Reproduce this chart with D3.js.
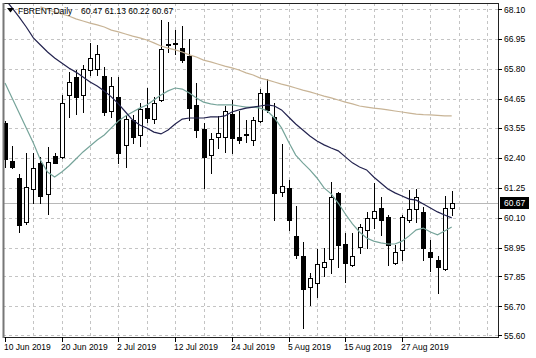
<!DOCTYPE html>
<html>
<head>
<meta charset="utf-8">
<script src="https://cdn.jsdelivr.net/npm/d3@7"></script>
<style>
  body { margin: 0; background: #fff; }
  svg { display: block; font-family: "Liberation Sans", Arial, sans-serif; }
</style>
</head>
<body>
<svg id="chart" width="536" height="358"></svg>
<script>
// Daily FBRENT candles, 10 Jun 2019 .. 4 Sep 2019 (one entry per bar)
const opens = [63.73, 62.27, 61.62, 59.93, 61.20, 62.20, 61.01, 62.46, 62.43, 64.80,
  65.49, 64.80, 65.76, 65.80, 65.53, 64.19, 64.73, 62.89, 63.84, 63.27,
  64.30, 63.88, 64.61, 66.76, 66.80, 66.60, 66.30, 64.42, 63.50, 62.50,
  63.19, 63.19, 64.07, 63.19, 63.29, 63.08, 63.81, 64.88, 63.96, 61.08,
  61.24, 59.40, 58.63, 57.44, 57.59, 58.21, 58.51, 61.05, 59.09, 58.28,
  58.97, 59.63, 60.09, 60.47, 60.12, 58.36, 58.86, 60.01, 60.43, 60.32,
  58.78, 58.48, 58.13, 60.47];
const highs = [63.80, 62.85, 61.77, 62.58, 62.58, 62.43, 62.81, 62.58, 64.80, 65.68,
  65.76, 65.95, 66.80, 66.72, 65.88, 65.49, 65.49, 64.04, 64.04, 64.50,
  65.07, 64.73, 67.68, 67.60, 67.30, 67.45, 66.95, 65.26, 63.73, 63.35,
  64.00, 64.38, 64.61, 64.19, 63.84, 63.96, 65.03, 65.42, 64.50, 62.92,
  61.54, 60.55, 59.17, 57.98, 58.90, 58.94, 61.47, 61.08, 59.51, 59.51,
  59.86, 60.32, 61.43, 60.89, 60.20, 59.05, 60.20, 61.16, 61.20, 60.51,
  59.24, 58.63, 60.93, 61.13];
const lows = [62.04, 62.00, 59.55, 59.86, 60.66, 60.66, 60.24, 62.18, 62.39, 63.96,
  64.07, 64.15, 65.57, 65.57, 64.04, 63.96, 62.20, 62.04, 62.96, 62.85,
  63.77, 63.73, 64.57, 66.45, 66.37, 66.07, 63.84, 63.19, 61.24, 61.81,
  62.77, 62.62, 62.58, 62.96, 63.00, 62.89, 63.77, 64.15, 60.01, 60.93,
  59.63, 58.55, 55.87, 56.75, 57.06, 57.86, 57.98, 58.21, 57.63, 58.25,
  58.74, 58.94, 59.70, 59.44, 58.28, 58.32, 58.48, 59.93, 59.93, 58.48,
  58.05, 57.21, 58.10, 60.22];
const closes = [62.35, 62.04, 59.82, 61.27, 62.00, 60.93, 62.23, 62.20, 64.50, 65.30,
  64.73, 65.80, 66.22, 66.37, 64.15, 65.15, 62.58, 63.88, 63.19, 64.27,
  63.92, 64.50, 66.57, 66.72, 66.76, 66.14, 64.30, 63.46, 62.43, 63.12,
  63.35, 64.19, 63.15, 63.08, 63.25, 63.84, 64.88, 64.23, 61.05, 61.31,
  60.01, 58.67, 57.36, 57.79, 58.32, 58.40, 60.89, 59.05, 58.36, 58.63,
  59.74, 60.09, 60.35, 60.01, 59.05, 58.78, 60.12, 60.43, 60.89, 58.94,
  58.59, 58.21, 60.47, 60.67];

// moving average lines
const maFast = [65.26, 64.69, 64.11, 63.54, 62.96, 62.31, 61.85, 61.66, 61.85, 62.08,
  62.35, 62.62, 62.85, 63.08, 63.27, 63.54, 63.81, 64.00, 64.15, 64.30,
  64.42, 64.61, 64.80, 64.96, 65.07, 65.03, 64.88, 64.69, 64.53, 64.46,
  64.42, 64.42, 64.42, 64.38, 64.34, 64.34, 64.30, 64.19, 63.92, 63.54,
  63.00, 62.50, 62.20, 61.93, 61.62, 61.24, 61.01, 60.66, 60.24, 59.86,
  59.55, 59.32, 59.20, 59.13, 59.09, 59.09, 59.20, 59.40, 59.63, 59.70,
  59.55, 59.44, 59.59, 59.74];
const maMid = [68.48, 68.14, 67.79, 67.41, 66.99, 66.72, 66.45, 66.22, 66.03, 65.84,
  65.68, 65.49, 65.30, 65.15, 64.96, 64.73, 64.46, 64.15, 63.84, 63.65,
  63.54, 63.38, 63.31, 63.46, 63.69, 63.88, 63.92, 63.92, 63.92, 63.96,
  63.96, 64.00, 64.15, 64.23, 64.30, 64.34, 64.38, 64.42, 64.38, 64.23,
  63.96, 63.69, 63.46, 63.23, 63.04, 62.89, 62.77, 62.66, 62.43, 62.20,
  62.04, 61.93, 61.66, 61.43, 61.20, 61.05, 60.93, 60.81, 60.77, 60.62,
  60.47, 60.32, 60.20, 60.09];
const maSlow = [null, null, null, null, null, 68.18, 68.08, 67.98, 67.91, 67.83,
  67.72, 67.64, 67.56, 67.49, 67.41, 67.29, 67.22, 67.14, 67.06, 66.99,
  66.91, 66.80, 66.68, 66.60, 66.53, 66.45, 66.34, 66.26, 66.14, 66.07,
  65.99, 65.91, 65.84, 65.76, 65.65, 65.57, 65.45, 65.38, 65.30, 65.22,
  65.15, 65.07, 64.99, 64.92, 64.84, 64.76, 64.69, 64.61, 64.53, 64.46,
  64.38, 64.34, 64.30, 64.27, 64.23, 64.19, 64.15, 64.11, 64.07, 64.05,
  64.04, 64.02, 64.00, 64.00];

const priceTicks = [68.10, 66.95, 65.80, 64.65, 63.55, 62.40, 61.25, 60.10, 58.95, 57.85, 56.70, 55.60];
const dateLabels = ["10 Jun 2019", "20 Jun 2019", "2 Jul 2019", "12 Jul 2019",
  "24 Jul 2019", "5 Aug 2019", "15 Aug 2019", "27 Aug 2019"];
const dateLabelBars = [0, 8, 16, 24, 32, 40, 48, 56];
const lastPrice = 60.67;

const svg = d3.select("#chart");
const plot = { left: 3, right: 498, top: 3, bottom: 337 };

const x = d3.scaleLinear().domain([0, 63]).range([5, 451.7]);
const y = d3.scaleLinear().domain([55.60, 68.10]).range([335, 9]);
const snap = v => Math.round(v) + 0.5;

svg.append("defs").append("clipPath").attr("id", "plotClip")
  .append("rect")
  .attr("x", plot.left + 1).attr("y", plot.top + 1)
  .attr("width", plot.right - plot.left - 1).attr("height", plot.bottom - plot.top - 1);

// grid
const grid = svg.append("g").attr("stroke", "#c4c4c4").attr("stroke-dasharray", "3,3");
grid.selectAll(".hg").data(priceTicks).enter().append("line")
  .attr("x1", plot.left).attr("x2", plot.right)
  .attr("y1", d => snap(y(d))).attr("y2", d => snap(y(d)));
grid.selectAll(".vg").data(d3.range(4, 69, 4)).enter().append("line")
  .attr("y1", plot.top).attr("y2", plot.bottom)
  .attr("x1", d => snap(x(d))).attr("x2", d => snap(x(d)));

const inner = svg.append("g").attr("clip-path", "url(#plotClip)");

// current price line
inner.append("line")
  .attr("x1", plot.left).attr("x2", plot.right)
  .attr("y1", snap(y(lastPrice))).attr("y2", snap(y(lastPrice)))
  .attr("stroke", "#b8b8b8");

// candles
const bars = d3.range(opens.length);
const candles = inner.append("g").selectAll("g").data(bars).enter().append("g");

candles.append("line")
  .attr("x1", i => snap(x(i))).attr("x2", i => snap(x(i)))
  .attr("y1", i => Math.round(y(highs[i]))).attr("y2", i => Math.round(y(lows[i])) + 1)
  .attr("stroke", "#000");

candles.append("rect")
  .attr("x", i => snap(x(i)) - 2)
  .attr("width", 4)
  .attr("y", i => Math.round(y(Math.max(opens[i], closes[i]))) + 0.5)
  .attr("height", i => Math.max(0, Math.round(y(Math.min(opens[i], closes[i]))) - Math.round(y(Math.max(opens[i], closes[i])))))
  .attr("fill", i => closes[i] >= opens[i] ? "#fff" : "#000")
  .attr("stroke", "#000");

// moving averages
const line = d3.line()
  .defined(d => d != null)
  .x((d, i) => x(i))
  .y(d => y(d));

inner.append("path").datum(maSlow).attr("d", line)
  .attr("fill", "none").attr("stroke", "#c8b496").attr("stroke-width", 1.2);
inner.append("path").datum(maFast).attr("d", line)
  .attr("fill", "none").attr("stroke", "#76a49a").attr("stroke-width", 1.2);
inner.append("path").datum(maMid).attr("d", line)
  .attr("fill", "none").attr("stroke", "#23234f").attr("stroke-width", 1.2);

// frame
svg.append("rect")
  .attr("x", plot.left + 0.5).attr("y", plot.top + 0.5)
  .attr("width", plot.right - plot.left).attr("height", plot.bottom - plot.top)
  .attr("fill", "none").attr("stroke", "#222");
svg.append("line")
  .attr("x1", plot.left + 0.5).attr("x2", plot.left + 0.5)
  .attr("y1", plot.top).attr("y2", plot.bottom + 1)
  .attr("stroke", "#777").attr("stroke-width", 2);

// price axis
const pa = svg.append("g").attr("font-size", "8.5px").attr("fill", "#000");
pa.selectAll("line").data(priceTicks).enter().append("line")
  .attr("x1", plot.right).attr("x2", plot.right + 4)
  .attr("y1", d => snap(y(d))).attr("y2", d => snap(y(d)))
  .attr("stroke", "#000");
pa.selectAll("text").data(priceTicks).enter().append("text")
  .attr("x", 504).attr("y", d => y(d) + 3.5)
  .text(d => d.toFixed(2));

// last price box
svg.append("rect")
  .attr("x", 500).attr("y", Math.round(y(lastPrice)) - 6)
  .attr("width", 29).attr("height", 12)
  .attr("fill", "#000");
svg.append("text")
  .attr("x", 504).attr("y", y(lastPrice) + 3.5)
  .attr("font-size", "8.5px").attr("fill", "#fff")
  .text(lastPrice.toFixed(2));

// date axis
const da = svg.append("g").attr("font-size", "8.5px").attr("fill", "#000");
da.selectAll("line").data(dateLabelBars).enter().append("line")
  .attr("x1", i => snap(x(i))).attr("x2", i => snap(x(i)))
  .attr("y1", plot.bottom).attr("y2", plot.bottom + 5)
  .attr("stroke", "#000");
da.selectAll("text").data(dateLabelBars).enter().append("text")
  .attr("x", i => Math.round(x(i)) - 1).attr("y", 350)
  .text((d, k) => dateLabels[k]);

// header
svg.append("path").attr("d", "M7,8 L14,8 L10.5,12.5 Z").attr("fill", "#000");
svg.append("text").attr("x", 18).attr("y", 14).attr("font-size", "8.5px")
  .text("FBRENT,Daily");
svg.append("text").attr("x", 81).attr("y", 14).attr("font-size", "8.5px")
  .text(`${opens[63].toFixed(2)} ${highs[63].toFixed(2)} ${lows[63].toFixed(2)} ${closes[63].toFixed(2)}`);
</script>
</body>
</html>
